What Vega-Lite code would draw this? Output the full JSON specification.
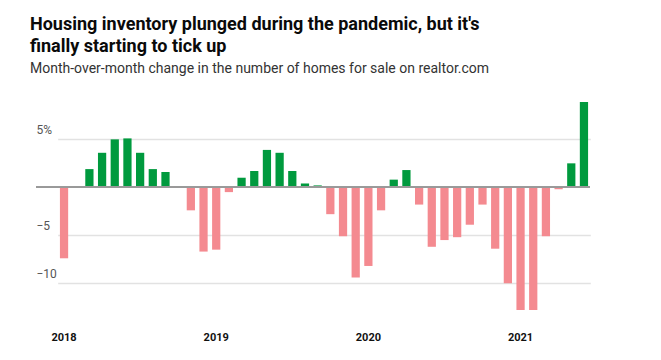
{
  "$schema": "https://vega.github.io/schema/vega-lite/v6.json",
  "width": 554,
  "height": 211,
  "autosize": "none",
  "padding": {"left": 36, "top": 101, "right": 71, "bottom": 48},
  "background": "white",
  "title": {
    "text": ["Housing inventory plunged during the pandemic, but it's", "finally starting to tick up"],
    "subtitle": "Month-over-month change in the number of homes for sale on realtor.com",
    "anchor": "start",
    "frame": "group",
    "dx": -6,
    "offset": 25,
    "font": "Roboto",
    "fontSize": 18,
    "fontWeight": 700,
    "lineHeight": 22,
    "color": "#0a0a0a",
    "subtitleFont": "Roboto",
    "subtitleFontSize": 14,
    "subtitleColor": "#333333",
    "subtitlePadding": 6
  },
  "config": {
    "view": {"stroke": null},
    "font": "Roboto"
  },
  "data": {
    "values": [
      {"month": "2018-01", "value": -7.4},
      {"month": "2018-02", "value": 0.1},
      {"month": "2018-03", "value": 1.9},
      {"month": "2018-04", "value": 3.6},
      {"month": "2018-05", "value": 5.0},
      {"month": "2018-06", "value": 5.1},
      {"month": "2018-07", "value": 3.6},
      {"month": "2018-08", "value": 1.9},
      {"month": "2018-09", "value": 1.6},
      {"month": "2018-10", "value": 0.1},
      {"month": "2018-11", "value": -2.4},
      {"month": "2018-12", "value": -6.7},
      {"month": "2019-01", "value": -6.5},
      {"month": "2019-02", "value": -0.5},
      {"month": "2019-03", "value": 1.0},
      {"month": "2019-04", "value": 1.7},
      {"month": "2019-05", "value": 3.9},
      {"month": "2019-06", "value": 3.6},
      {"month": "2019-07", "value": 1.7},
      {"month": "2019-08", "value": 0.4},
      {"month": "2019-09", "value": 0.2},
      {"month": "2019-10", "value": -2.8},
      {"month": "2019-11", "value": -5.1},
      {"month": "2019-12", "value": -9.4},
      {"month": "2020-01", "value": -8.2},
      {"month": "2020-02", "value": -2.4},
      {"month": "2020-03", "value": 0.8},
      {"month": "2020-04", "value": 1.8},
      {"month": "2020-05", "value": -1.8},
      {"month": "2020-06", "value": -6.2},
      {"month": "2020-07", "value": -5.5},
      {"month": "2020-08", "value": -5.2},
      {"month": "2020-09", "value": -3.9},
      {"month": "2020-10", "value": -1.8},
      {"month": "2020-11", "value": -6.4},
      {"month": "2020-12", "value": -10.0},
      {"month": "2021-01", "value": -12.8},
      {"month": "2021-02", "value": -12.8},
      {"month": "2021-03", "value": -5.1},
      {"month": "2021-04", "value": -0.2},
      {"month": "2021-05", "value": 2.5},
      {"month": "2021-06", "value": 8.9}
    ]
  },
  "layer": [
    {
      "mark": {"type": "bar"},
      "encoding": {
        "x": {
          "field": "month",
          "type": "ordinal",
          "sort": null,
          "scale": {"range": [21.7, 554.3], "paddingInner": 0.35, "paddingOuter": 0.175},
          "axis": {
            "title": null,
            "ticks": false,
            "domain": false,
            "labelAngle": 0,
            "labelExpr": "substring(datum.value, 5, 7) == '01' ? substring(datum.value, 0, 4) : ''",
            "labelFont": "Roboto",
            "labelFontSize": 11,
            "labelFontWeight": 700,
            "labelColor": "#111111",
            "labelPadding": 19
          }
        },
        "y": {
          "field": "value",
          "type": "quantitative",
          "scale": {"domain": [-13, 9], "nice": false},
          "axis": {
            "title": null,
            "values": [-10, -5, 5],
            "labelExpr": "datum.value == 5 ? '5%' : '−' + abs(datum.value)",
            "ticks": false,
            "tickSize": 0,
            "domain": false,
            "labelAlign": "left",
            "labelBaseline": "bottom",
            "labelPadding": 0,
            "labelOffset": -3,
            "labelFont": "Roboto",
            "labelFontSize": 12,
            "labelColor": "#555555",
            "gridColor": "#e2e2e2",
            "gridWidth": 1.5
          }
        },
        "color": {
          "condition": {"test": "datum.value >= 0", "value": "#009a3e"},
          "value": "#f48a90"
        }
      }
    },
    {
      "mark": {"type": "rule", "color": "#999999", "strokeWidth": 1.5},
      "encoding": {"y": {"datum": 0, "type": "quantitative"}}
    }
  ]
}
